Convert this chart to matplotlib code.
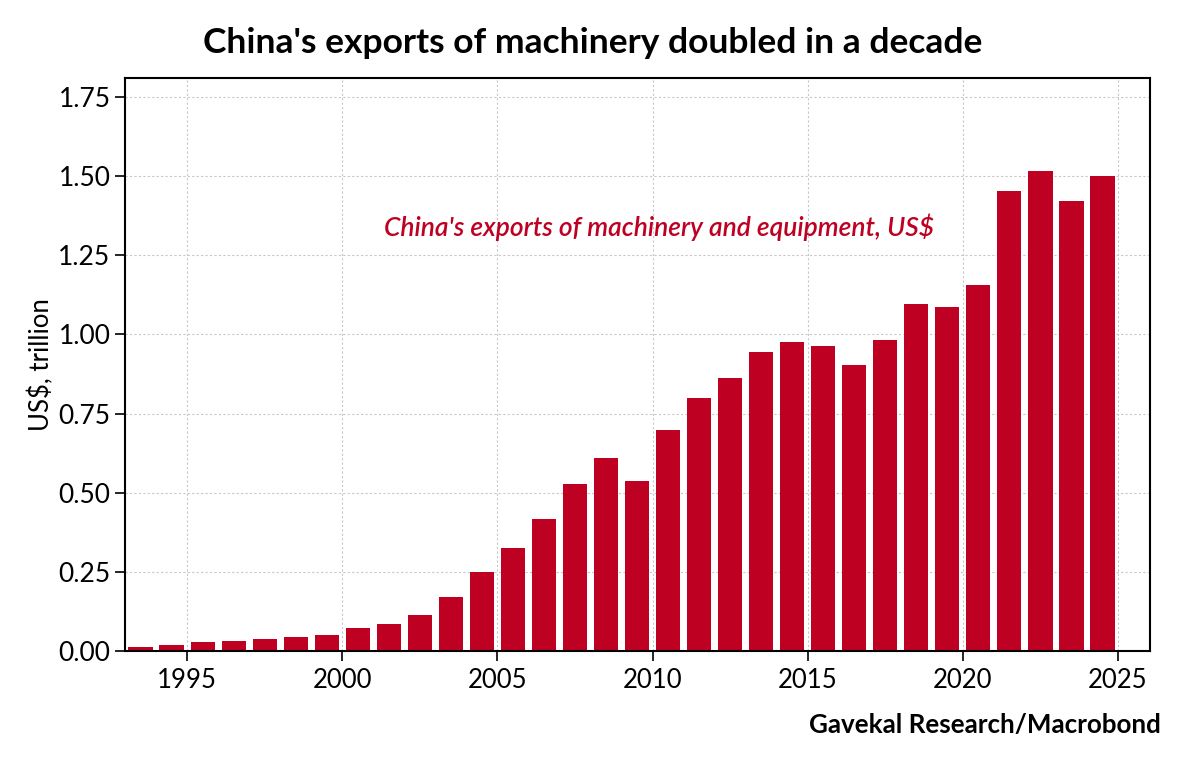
import matplotlib
matplotlib.use("Agg")
import matplotlib.pyplot as plt
from matplotlib.ticker import FixedLocator, FormatStrFormatter

years = list(range(1993, 2025))
exports_tn = [0.013, 0.019, 0.028, 0.031, 0.039, 0.044, 0.051, 0.073, 0.085, 0.115,
              0.172, 0.248, 0.324, 0.416, 0.527, 0.610, 0.536, 0.699, 0.800, 0.863,
              0.945, 0.975, 0.964, 0.905, 0.983, 1.096, 1.088, 1.155, 1.452, 1.516,
              1.421, 1.499]
xticks = [1995, 2000, 2005, 2010, 2015, 2020, 2025]
yticks = [0.0, 0.25, 0.5, 0.75, 1.0, 1.25, 1.5, 1.75]

title = "China's exports of machinery doubled in a decade"
series_label = "China's exports of machinery and equipment, US$"
ylabel = "US$, trillion"
source = "Gavekal Research/Macrobond"

RED = "#BE0022"
FONT = ["Lato", "DejaVu Sans"]
plt.rcParams['font.family'] = FONT

fig = plt.figure(figsize=(12, 7.59), dpi=100)
ax = fig.add_axes([0.1042, 0.1423, 0.8541, 0.7549])

ax.bar([y + 0.5 for y in years], exports_tn, width=0.78, color=RED, zorder=2)

ax.set_xlim(1993, 2026.03)
ax.set_ylim(0, 1.81)
ax.xaxis.set_major_locator(FixedLocator(xticks))
ax.yaxis.set_major_locator(FixedLocator(yticks))
ax.yaxis.set_major_formatter(FormatStrFormatter('%.2f'))
ax.grid(True, color="#C8C8C8", linestyle=(0, (2, 2)), linewidth=0.8, zorder=0)
for s in ax.spines.values():
    s.set_linewidth(1.5)
ax.tick_params(axis='both', direction='out', length=7, width=1.2, labelsize=19)
ax.tick_params(axis='x', labelsize=18.5, pad=5)
ax.set_ylabel(ylabel, fontsize=18.5, labelpad=3)

ax.text(2001.35, 1.339, series_label, color=RED, fontsize=19, style='italic',
        fontweight='semibold', ha='left', va='center')

fig.text(0.494, 0.944, title, fontsize=25.5, fontweight='bold', ha='center', va='center')
fig.text(0.967, 0.045, source, fontsize=18.7, fontweight='bold', ha='right', va='center')

fig.savefig("out.png", dpi=100)
